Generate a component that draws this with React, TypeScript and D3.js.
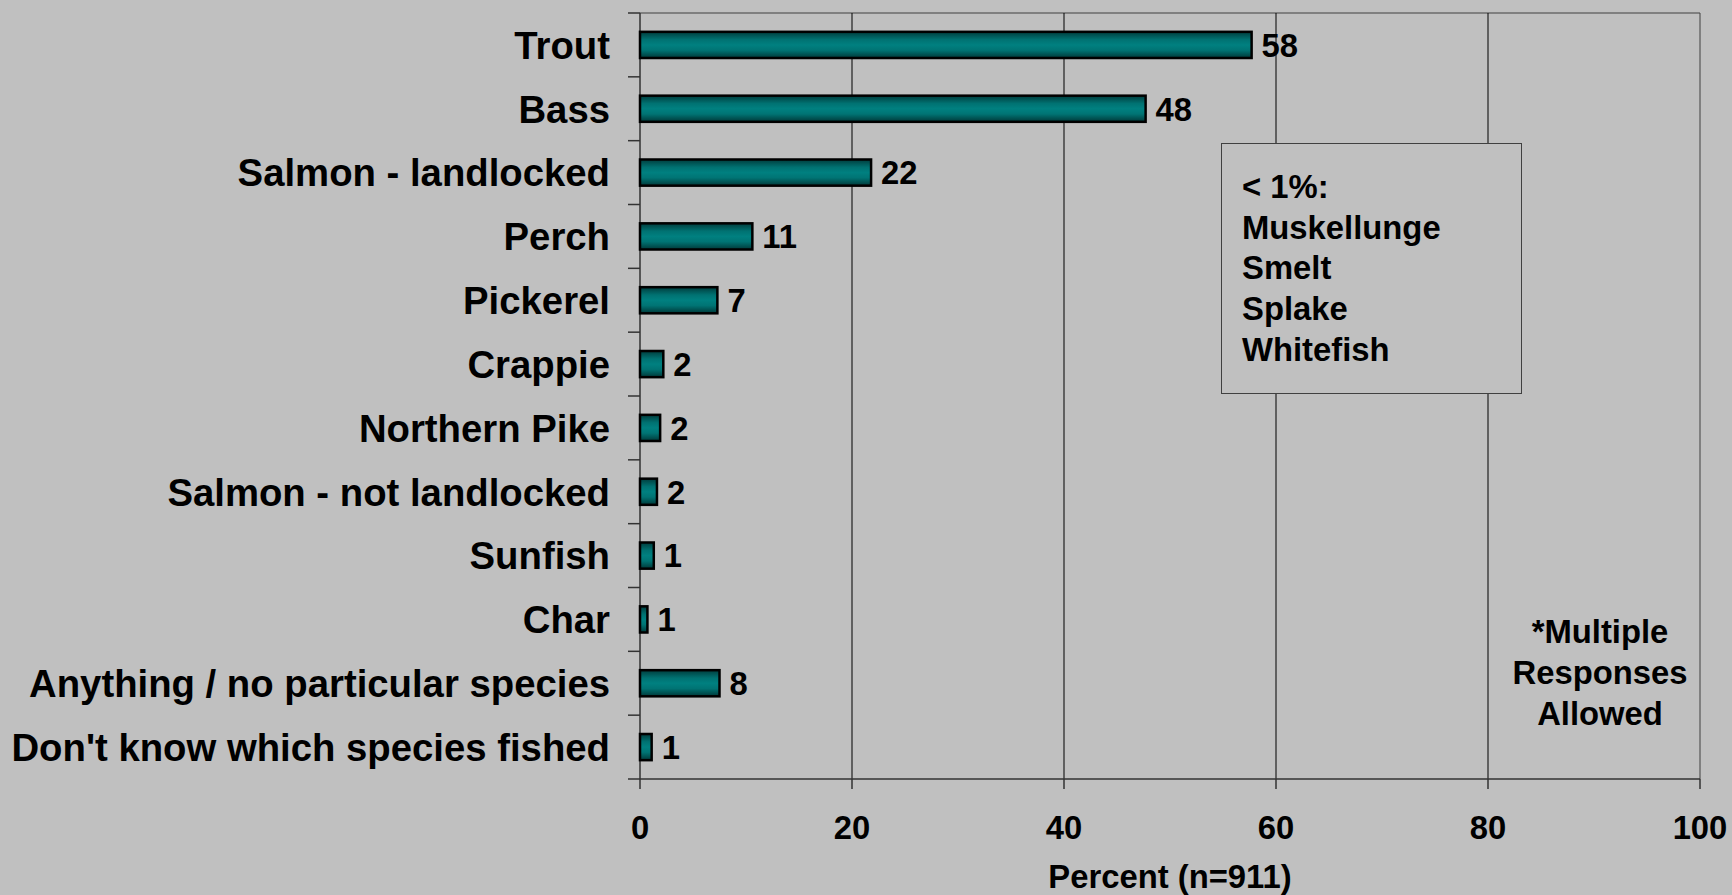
import React from "react";
import * as d3 from "d3";

const categories = [
  "Trout",
  "Bass",
  "Salmon - landlocked",
  "Perch",
  "Pickerel",
  "Crappie",
  "Northern Pike",
  "Salmon - not landlocked",
  "Sunfish",
  "Char",
  "Anything / no particular species",
  "Don't know which species fished",
];
const values = [57.7, 47.7, 21.8, 10.6, 7.3, 2.2, 1.9, 1.6, 1.3, 0.7, 7.5, 1.1];
const valueLabels = ["58", "48", "22", "11", "7", "2", "2", "2", "1", "1", "8", "1"];
const xTicks = [0, 20, 40, 60, 80, 100];
const noteLines = ["< 1%:", "Muskellunge", "Smelt", "Splake", "Whitefish"];
const footnoteLines = ["*Multiple", "Responses", "Allowed"];
const xTitle = "Percent (n=911)";

const W = 1732;
const H = 895;
const m = { left: 640, right: 1700, top: 13, bottom: 779 };
const FONT = "'Liberation Sans', Arial, sans-serif";
const FS = 32.8;
const FS_CAT = 38.3;

export default function App() {
  const x = d3.scaleLinear().domain([0, 100]).range([m.left, m.right]);
  const y = d3
    .scaleBand<string>()
    .domain(categories)
    .range([m.top, m.bottom])
    .paddingInner(0.59)
    .paddingOuter(0.295);
  const band = (m.bottom - m.top) / categories.length;
  const boundaries = d3.range(categories.length + 1).map((i) => m.top + i * band);

  return (
    <div style={{ position: "fixed", left: 0, top: 0, width: W, height: H, background: "#c0c0c0" }}>
      <svg width={W} height={H} style={{ display: "block", fontFamily: FONT }}>
        <defs>
          <linearGradient id="barGrad" x1="0" y1="0" x2="0" y2="1">
            <stop offset="0%" stopColor="#003c3c" />
            <stop offset="30%" stopColor="#007272" />
            <stop offset="50%" stopColor="#008080" />
            <stop offset="70%" stopColor="#007474" />
            <stop offset="100%" stopColor="#003838" />
          </linearGradient>
        </defs>
        <rect x={0} y={0} width={W} height={H} fill="#c0c0c0" />
        {/* plot frame */}
        <line x1={m.left} x2={m.right} y1={m.top} y2={m.top} stroke="#404040" strokeWidth={1} />
        <line x1={m.right} x2={m.right} y1={m.top} y2={m.bottom} stroke="#404040" strokeWidth={1} />
        {/* gridlines */}
        {xTicks.slice(1, -1).map((t) => (
          <line key={"g" + t} x1={x(t)} x2={x(t)} y1={m.top} y2={m.bottom} stroke="#000" strokeWidth={1} />
        ))}
        {/* x tick marks */}
        {xTicks.map((t) => (
          <line key={"xt" + t} x1={x(t)} x2={x(t)} y1={m.bottom} y2={m.bottom + 10} stroke="#333" strokeWidth={1.5} />
        ))}
        {/* y category tick marks */}
        {boundaries.map((b, i) => (
          <line key={"yt" + i} x1={m.left - 12} x2={m.left} y1={b} y2={b} stroke="#333" strokeWidth={1.5} />
        ))}
        {/* axes */}
        <line x1={m.left} x2={m.left} y1={m.top} y2={m.bottom} stroke="#333" strokeWidth={1.5} />
        <line x1={m.left} x2={m.right} y1={m.bottom} y2={m.bottom} stroke="#333" strokeWidth={1.5} />
        {/* bars */}
        {categories.map((c, i) => (
          <g key={c}>
            <rect
              x={x(0)}
              y={y(c)!}
              width={x(values[i]) - x(0)}
              height={y.bandwidth()}
              fill="url(#barGrad)"
              stroke="#000"
              strokeWidth={2.5}
            />
            <text
              x={x(values[i]) + 10}
              y={y(c)! + y.bandwidth() / 2}
              dy="0.36em"
              fontSize={FS}
              fontWeight="bold"
              fill="#000"
            >
              {valueLabels[i]}
            </text>
            <text
              x={610}
              y={m.top + (i + 0.5) * band}
              dy="0.36em"
              textAnchor="end"
              fontSize={FS_CAT}
              fontWeight="bold"
              fill="#000"
            >
              {c}
            </text>
          </g>
        ))}
        {/* x tick labels */}
        {xTicks.map((t) => (
          <text key={"xl" + t} x={x(t)} y={839} textAnchor="middle" fontSize={FS} fontWeight="bold" fill="#000">
            {t}
          </text>
        ))}
        <text x={(m.left + m.right) / 2} y={888} textAnchor="middle" fontSize={FS} fontWeight="bold" fill="#000">
          {xTitle}
        </text>
        {/* note box */}
        <rect x={1221.5} y={143.5} width={300} height={250} fill="#c0c0c0" stroke="#404040" strokeWidth={1} />
        {noteLines.map((l, i) => (
          <text key={l} x={1242} y={198 + i * 40.7} fontSize={FS} fontWeight="bold" fill="#000">
            {l}
          </text>
        ))}
        {footnoteLines.map((l, i) => (
          <text key={l} x={1600} y={643 + i * 41} textAnchor="middle" fontSize={FS} fontWeight="bold" fill="#000">
            {l}
          </text>
        ))}
      </svg>
    </div>
  );
}
